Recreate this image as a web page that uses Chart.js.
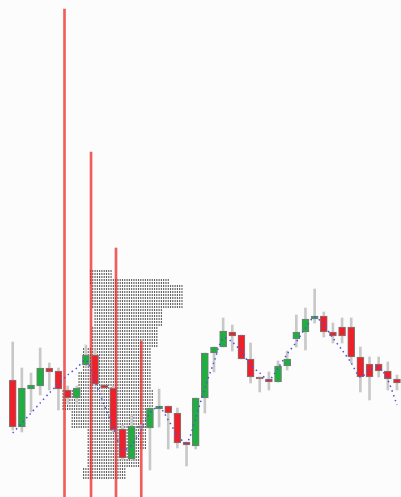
<!DOCTYPE html>
<html lang="en">
<head>
    <meta charset="utf-8" />
    <title>Candles</title>
    <script src="https://cdn.jsdelivr.net/npm/chart.js"></script>
    <style>
        html, body { margin: 0; padding: 0; background: #fcfcfc; }
        #wrap { width: 401px; height: 497px; }
    </style>
</head>
<body>
    <div id="wrap"><canvas id="candleChart" width="401" height="497"></canvas></div>
    <script>
        // candle data (index = bar number)
        const opens  = [25.85, 23.5, 25.4, 25.55, 26.45, 26.3, 25.35, 24.95, 26.6, 27.1, 25.6, 25.45, 23.4, 21.9, 23.55, 23.45, 24.4, 24.55, 24.2, 22.75, 22.55, 24.95, 27.2, 27.5, 28.25, 28.1, 26.9, 26.0, 25.9, 25.75, 26.55, 27.9, 28.25, 28.9, 29.05, 28.25, 28.5, 28.5, 27.0, 26.65, 26.65, 26.3, 25.9];
        const highs  = [27.75, 26.45, 26.2, 27.45, 26.7, 26.45, 25.55, 25.55, 27.6, 27.35, 25.6, 25.55, 23.6, 24.1, 23.6, 24.45, 25.4, 24.55, 24.45, 22.75, 24.95, 27.2, 27.5, 28.95, 28.6, 28.1, 27.7, 26.0, 26.25, 26.8, 27.3, 29.1, 29.45, 30.4, 29.25, 28.7, 28.95, 28.95, 27.5, 27.0, 27.0, 26.75, 26.1];
        const lows   = [23.35, 23.25, 24.25, 25.1, 25.35, 24.35, 24.65, 24.65, 26.5, 25.55, 25.45, 23.25, 21.85, 21.85, 23.4, 21.35, 23.5, 22.4, 22.45, 21.55, 22.4, 24.2, 26.25, 27.5, 27.3, 26.9, 25.7, 25.25, 25.35, 25.75, 26.35, 27.5, 27.35, 28.7, 28.0, 27.7, 27.7, 26.7, 25.25, 24.85, 26.0, 25.35, 25.35];
        const closes = [23.5, 25.45, 25.6, 26.45, 26.25, 25.4, 24.95, 25.45, 27.1, 25.65, 25.45, 23.35, 21.95, 23.55, 23.45, 24.45, 24.55, 24.2, 22.7, 22.6, 24.95, 27.2, 27.5, 28.3, 28.05, 26.9, 26.0, 25.9, 25.75, 26.55, 26.9, 28.25, 28.9, 29.05, 28.25, 28.05, 28.05, 27.0, 26.0, 26.0, 26.3, 25.9, 25.7];

        // smoothed line (dotted)
        const trendVals = [23.2, 23.7, 24.2, 24.7, 25.2, 25.65, 26.1, 26.45, 26.85, 25.75, 24.6, 23.45, 22.35, 22.6, 23.35, 24.2, 24.5, 23.85, 23.1, 22.7, 23.95, 25.45, 26.75, 27.95, 27.75, 27.25, 26.6, 26.2, 25.85, 26.45, 27.15, 27.75, 28.45, 29.0, 28.6, 27.95, 27.35, 26.7, 26.0, 26.35, 26.5, 25.85, 24.6];

        // vertical markers: position (bar units) and top price
        const markerX   = [5.66, 8.56, 11.29, 14.05];
        const markerTop = [44.4, 37.25, 32.45, 27.8];

        // dotted profile bands: price top/bottom, bar from/to
        const profTop    = [31.3, 30.85, 30.55, 29.35, 28.45, 27.45, 26.25, 25.35, 24.35, 23.45, 22.45, 21.45];
        const profBottom = [30.85, 30.55, 29.35, 28.45, 27.45, 26.25, 25.35, 24.35, 23.45, 22.45, 21.45, 20.85];
        const profFrom   = [8.34, 8.34, 8.67, 8.78, 8.67, 7.57, 7.03, 5.39, 6.48, 8.01, 8.12, 7.57];
        const profTo     = [10.96, 17.19, 18.61, 16.43, 15.77, 15.0, 15.0, 15.33, 15.0, 14.68, 13.91, 12.49];

        const upColor = '#1fae3f';
        const downColor = '#f0202a';

        const bodies = opens.map((o, i) => ({ x: i, y: [o, closes[i]] }));
        const wicks = highs.map((h, i) => ({ x: i, y: [lows[i], h] }));
        const bodyColors = opens.map((o, i) => closes[i] >= o ? upColor : downColor);
        const trend = trendVals.map((v, i) => ({ x: i, y: v }));
        const markers = markerX.map((x, i) => ({ x: x, y: [20, markerTop[i]] }));

        // dots of the profile on a fixed grid
        const dots = [];
        for (let k = 0; k < 80; k++) {
            const p = 31.3 - k * 0.15;
            for (let j = 0; j < 60; j++) {
                const x = 5 + j * 0.25;
                for (let b = 0; b < profTop.length; b++) {
                    if (p <= profTop[b] && p > profBottom[b] && x >= profFrom[b] && x <= profTo[b]) {
                        dots.push({ x: x, y: p });
                        break;
                    }
                }
            }
        }

        new Chart(document.getElementById('candleChart'), {
            type: 'bar',
            data: {
                datasets: [
                    {
                        type: 'line',
                        data: trend,
                        borderColor: '#4f4fe0',
                        borderWidth: 1.5,
                        borderDash: [1.5, 3.5],
                        pointRadius: 0,
                        tension: 0.3,
                        order: 1
                    },
                    {
                        data: bodies,
                        backgroundColor: bodyColors,
                        borderColor: '#7a7a7a',
                        borderWidth: 1,
                        borderSkipped: false,
                        barThickness: 7,
                        order: 2
                    },
                    {
                        data: wicks,
                        backgroundColor: '#c8c8c8',
                        barThickness: 2,
                        order: 3
                    },
                    {
                        data: markers,
                        backgroundColor: 'rgba(238, 40, 40, 0.75)',
                        barThickness: 2,
                        order: 4
                    },
                    {
                        type: 'scatter',
                        data: dots,
                        backgroundColor: '#000000',
                        borderWidth: 0,
                        pointRadius: 0.65,
                        order: 5
                    }
                ]
            },
            options: {
                responsive: false,
                animation: false,
                layout: { padding: 0, autoPadding: false },
                datasets: { bar: { grouped: false } },
                plugins: { legend: { display: false }, tooltip: { enabled: false } },
                scales: {
                    x: { type: 'linear', display: false, offset: false, min: -1.39, max: 42.44 },
                    y: { display: false, min: 20, max: 44.85 }
                }
            }
        });
    </script>
</body>
</html>
